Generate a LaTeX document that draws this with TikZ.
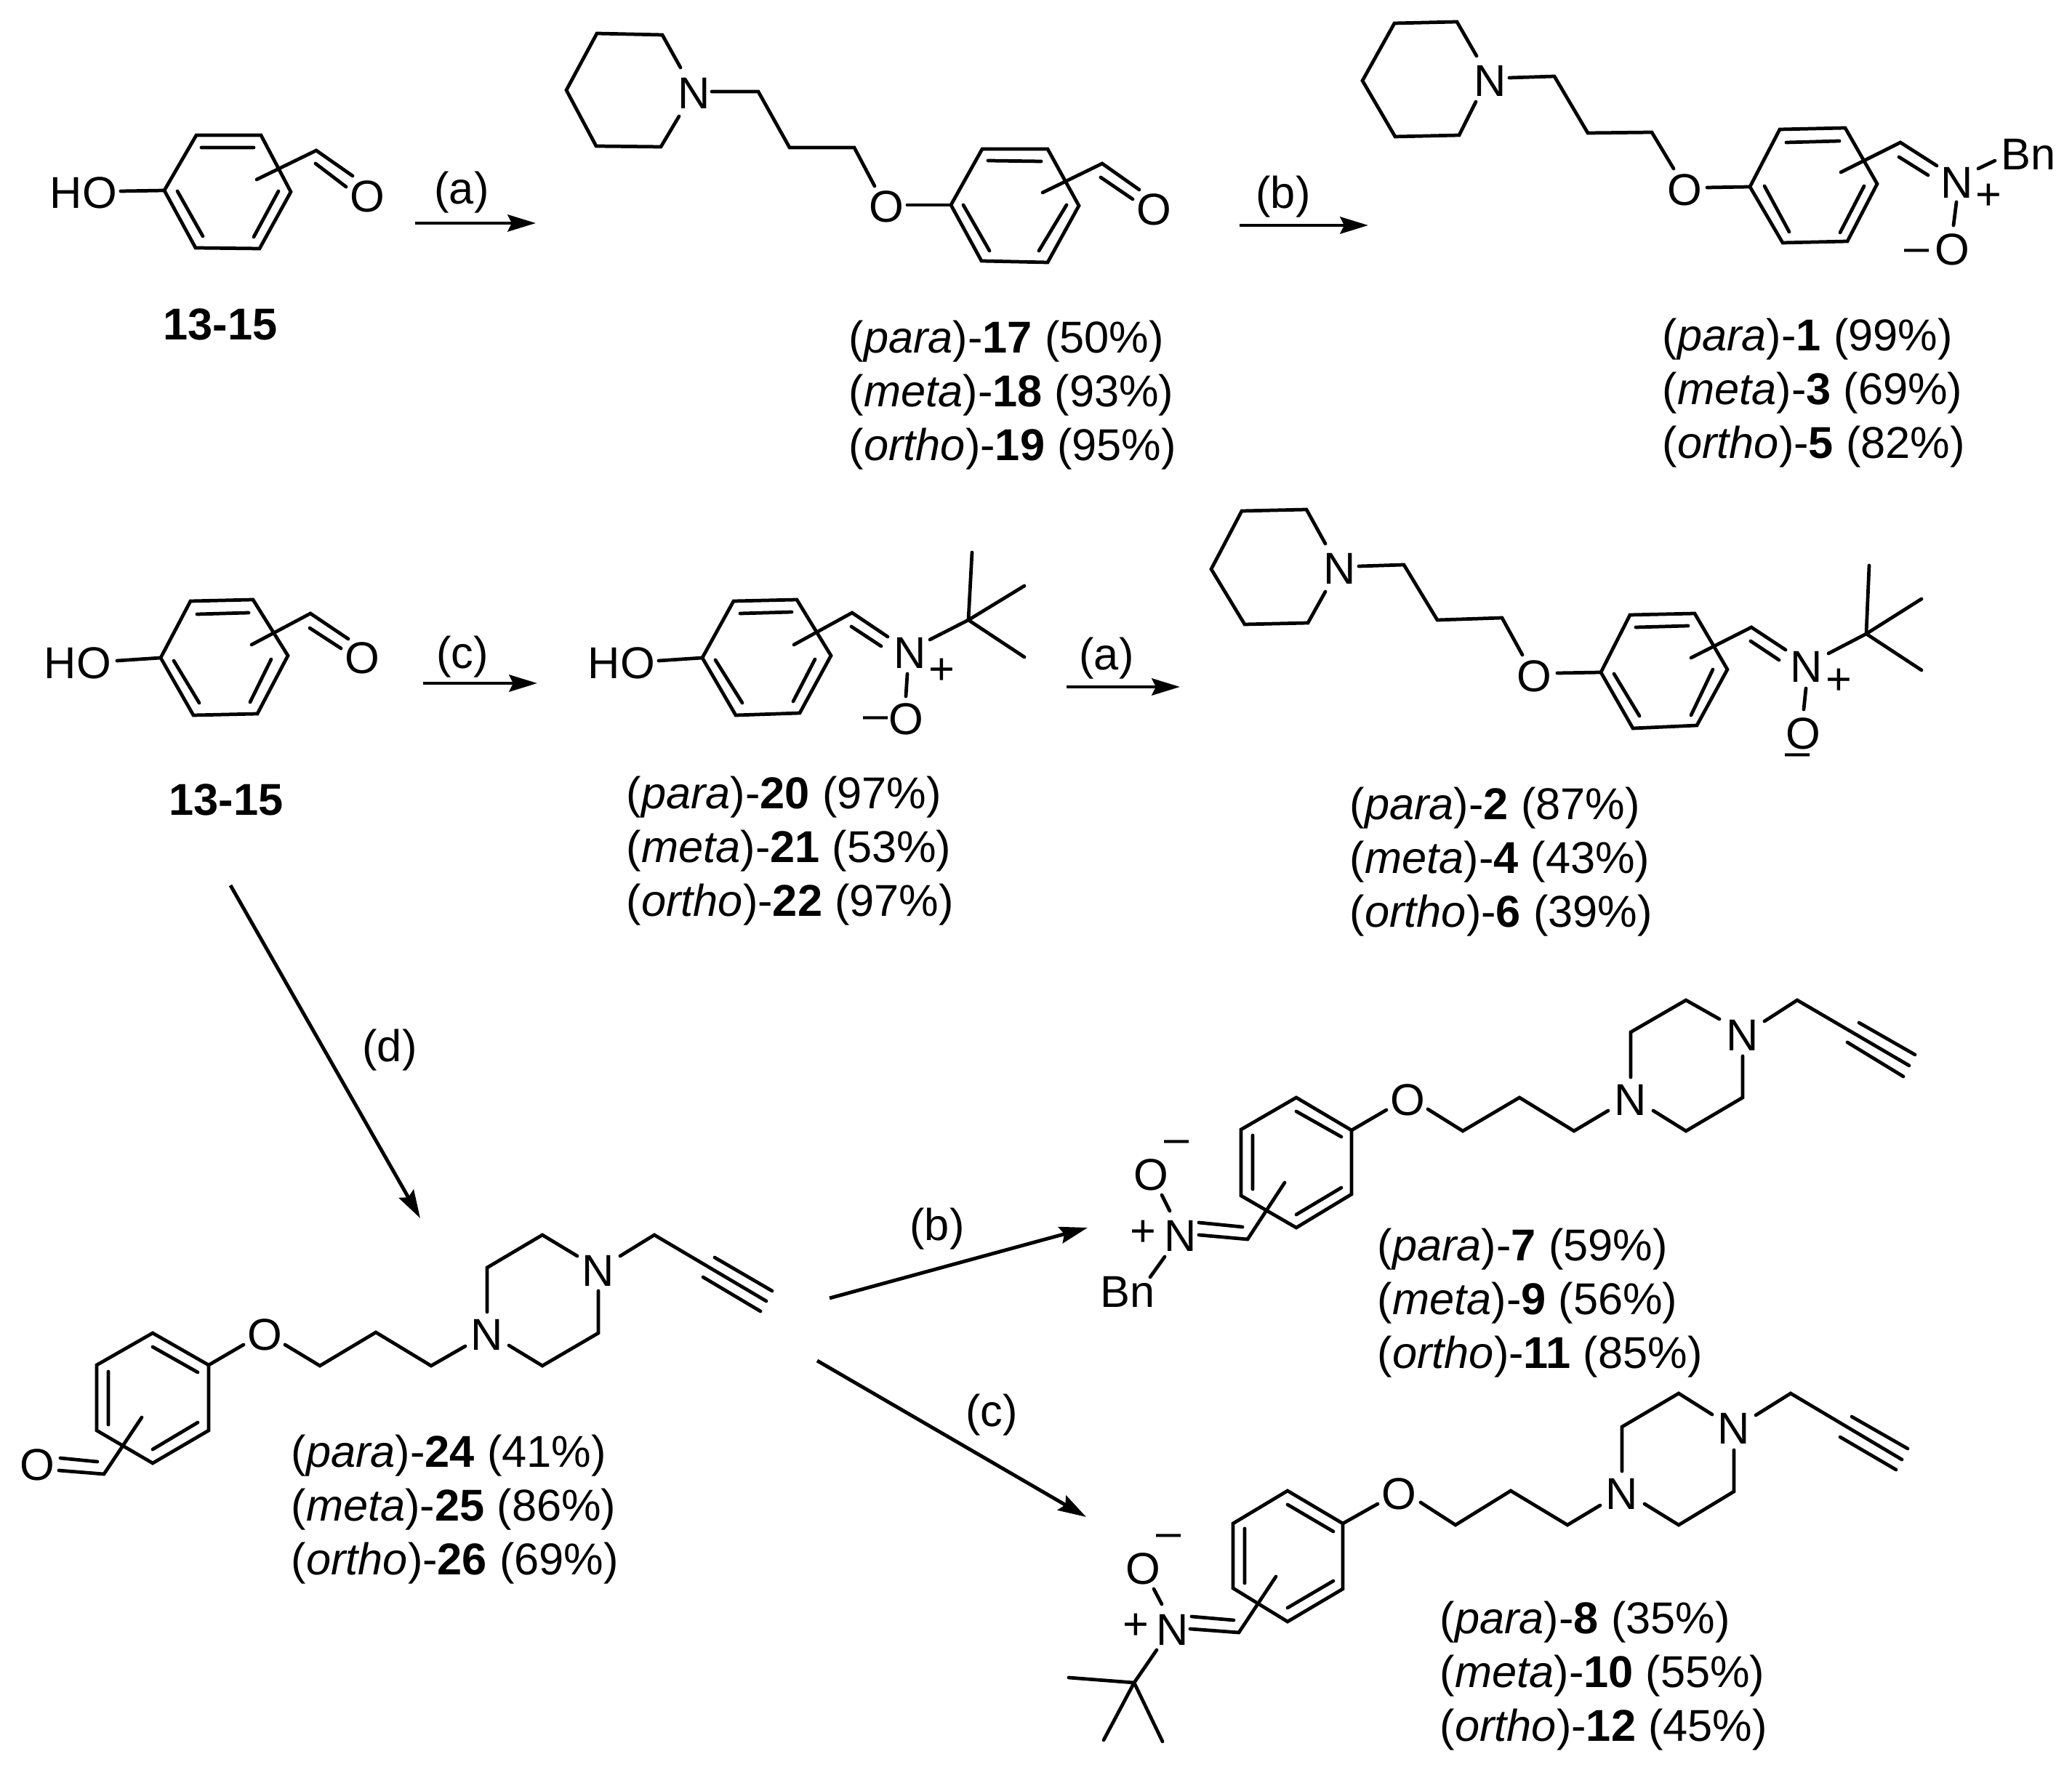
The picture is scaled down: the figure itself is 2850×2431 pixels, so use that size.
\documentclass[tikz,border=0pt]{standalone}
\usepackage{fontspec}
\setmainfont{Liberation Sans}
\usetikzlibrary{arrows.meta}
\tikzset{
  bond/.style={line width=1.35pt,line cap=round,line join=miter,black},
  rxn/.style={line width=1.4pt,black,-{Stealth[length=11pt,width=6.6pt,inset=1.6pt]}},
  atom/.style={inner sep=0pt,font=\fontsize{17.45pt}{20pt}\selectfont},
  yield/.style={inner sep=0pt,anchor=west,xshift=-0.03cm,font=\fontsize{17.45pt}{20pt}\selectfont},
}
\begin{document}
\begin{tikzpicture}[x=0.01cm,y=-0.01cm]
\useasboundingbox (0,0) rectangle (2850,2431);

% ---- 13-15 (top)
\draw[bond] (226,262)--(270,186)--(359,186)--(400,264)--(357,342)--(269,341)--cycle;
\draw[bond] (277,203)--(349,203) (244,263)--(279,325) (383,263)--(349,326);
\draw[bond] (166,263)--(226,262);
\draw[bond] (353,247)--(435,207)--(485,242) (434,225)--(476,257);
\node[atom] (ho1) at (115,265) {HO};
\node[atom] (o1) at (505,270) {O};
\node[atom,font=\fontsize{17.45pt}{20pt}\selectfont\bfseries] (c1315a) at (303,446) {13-15};
\coordinate (a1s) at (571,307); \coordinate (a1e) at (737,307);
\draw[rxn] (a1s)--(a1e);
\node[atom] (la1) at (635,265) {(a)};

% ---- 17/18/19
\draw[bond] (936,93)--(911,48)--(821,46)--(779,124)--(820,201)--(909,202)--(934,160);
\node[atom] (n17) at (955,128) {N};
\draw[bond] (979,126)--(1043,126)--(1086,203)--(1175,203)--(1203,256);
\node[atom] (o17) at (1219,284) {O};
\draw[bond] (1248,282)--(1308,282);
\draw[bond] (1308,282)--(1351,205)--(1441,205)--(1484,283)--(1441,361)--(1350,359)--cycle;
\draw[bond] (1359,221)--(1432,222) (1325,282)--(1361,345) (1467,282)--(1429,345);
\draw[bond] (1434,265)--(1516,225)--(1567,261) (1514,244)--(1558,274);
\node[atom] (o17b) at (1587,288) {O};
\node[yield] (y17) at (1170,470) {(\textit{para})-\textbf{17} (50\%)};
\node[yield] (y18) at (1170,544) {(\textit{meta})-\textbf{18} (93\%)};
\node[yield] (y19) at (1170,618) {(\textit{ortho})-\textbf{19} (95\%)};
\coordinate (b1s) at (1705,310); \coordinate (b1e) at (1882,310);
\draw[rxn] (b1s)--(b1e);
\node[atom] (lb1) at (1765,271) {(b)};

% ---- 1/3/5
\draw[bond] (2031,77)--(2004,30)--(1918,32)--(1874,111)--(1919,188)--(2007,186)--(2030,140);
\node[atom] (n1) at (2050,111) {N};
\draw[bond] (2076,107)--(2138,105)--(2184,183)--(2272,182)--(2302,232);
\node[atom] (o2) at (2317,261) {O};
\draw[bond] (2348,258)--(2407,257);
\draw[bond] (2407,257)--(2448,178)--(2538,176)--(2582,253)--(2541,332)--(2452,334)--cycle;
\draw[bond] (2457,196)--(2530,194) (2427,256)--(2461,319) (2564,256)--(2531,320);
\draw[bond] (2532,237)--(2614,196)--(2664,228) (2612,216)--(2652,241);
\node[atom] (n1b) at (2692,251) {N};
\node[atom] (p1) at (2735,271) {+};
\draw[bond] (2721,232)--(2744,221);
\node[atom] (bn1) at (2790,212) {Bn};
\draw[bond] (2691,278)--(2687,310);
\node[atom] (o1b) at (2685,343) {O};
\node[atom] (m1) at (2637,352) {–};
\node[yield] (y1) at (2289,467) {(\textit{para})-\textbf{1} (99\%)};
\node[yield] (y3) at (2289,541) {(\textit{meta})-\textbf{3} (69\%)};
\node[yield] (y5) at (2289,615) {(\textit{ortho})-\textbf{5} (82\%)};

% ---- 13-15 (second row)
\draw[bond] (221,905)--(262,827)--(348,825)--(396,902)--(354,982)--(266,984)--cycle;
\draw[bond] (271,845)--(342,843) (239,909)--(274,967) (373,907)--(344,966);
\draw[bond] (161,909)--(221,905);
\draw[bond] (346,887)--(427,844)--(479,879) (426,864)--(469,892);
\node[atom] (ho2) at (107,912) {HO};
\node[atom] (o3) at (498,905) {O};
\node[atom,font=\fontsize{17.45pt}{20pt}\selectfont\bfseries] (c1315b) at (311,1100) {13-15};
\coordinate (c1s) at (582,940); \coordinate (c1e) at (739,940);
\draw[rxn] (c1s)--(c1e);
\node[atom] (lc1) at (636,904) {(c)};
\coordinate (d1s) at (317,1218); \coordinate (d1e) at (578,1676);
\draw[rxn] (d1s)--(d1e);
\node[atom] (ld1) at (536,1445) {(d)};

% ---- 20/21/22
\draw[bond] (966,905)--(1009,827)--(1096,825)--(1143,902)--(1100,981)--(1012,984)--cycle;
\draw[bond] (1018,844)--(1089,842) (984,908)--(1021,967) (1121,907)--(1091,965);
\draw[bond] (906,909)--(966,905);
\node[atom] (ho3) at (855,912) {HO};
\draw[bond] (1092,887)--(1172,843)--(1221,876) (1171,862)--(1212,889);
\node[atom] (n20) at (1252,898) {N};
\node[atom] (p20) at (1295,924) {+};
\draw[bond] (1248,927)--(1246,958);
\node[atom] (o20) at (1246,989) {O};
\node[atom] (m20) at (1205,995) {–};
\draw[bond] (1279,880)--(1332,853) (1337,760)--(1332,853) (1409,806)--(1332,853)--(1409,904);
\node[yield] (y20) at (864,1097) {(\textit{para})-\textbf{20} (97\%)};
\node[yield] (y21) at (864,1171) {(\textit{meta})-\textbf{21} (53\%)};
\node[yield] (y22) at (864,1245) {(\textit{ortho})-\textbf{22} (97\%)};
\coordinate (a2s) at (1467,945); \coordinate (a2e) at (1623,945);
\draw[rxn] (a2s)--(a2e);
\node[atom] (la2) at (1522,906) {(a)};

% ---- 2/4/6
\draw[bond] (1823,748)--(1797,701)--(1708,703)--(1666,783)--(1712,859)--(1799,857)--(1823,814);
\node[atom] (n2) at (1843,782) {N};
\draw[bond] (1869,779)--(1931,777)--(1977,853)--(2066,850)--(2094,901);
\node[atom] (o4) at (2110,930) {O};
\draw[bond] (2142,926)--(2202,925);
\draw[bond] (2202,925)--(2242,846)--(2331,844)--(2376,921)--(2334,998)--(2246,1002)--cycle;
\draw[bond] (2250,863)--(2322,861) (2220,927)--(2255,985) (2356,921)--(2326,984);
\draw[bond] (2326,905)--(2409,863)--(2456,894) (2408,882)--(2447,908);
\node[atom] (n2b) at (2485,917) {N};
\node[atom] (p2) at (2529,938) {+};
\draw[bond] (2484,947)--(2481,976);
\node[atom] (o4b) at (2480,1009) {O};
\node[atom] (m2) at (2473,1046) {–};
\draw[bond] (2515,899)--(2567,872) (2571,778)--(2567,872) (2643,824)--(2567,872)--(2643,922);
\node[yield] (y2) at (1859,1112) {(\textit{para})-\textbf{2} (87\%)};
\node[yield] (y4) at (1859,1186) {(\textit{meta})-\textbf{4} (43\%)};
\node[yield] (y6) at (1859,1260) {(\textit{ortho})-\textbf{6} (39\%)};

% ---- 24/25/26
\draw[bond] (210,1834)--(287,1878)--(287,1968)--(210,2013)--(133,1968)--(133,1878)--cycle;
\draw[bond] (210,1853)--(272,1888) (272,1957)--(210,1994) (149,1887)--(149,1960);
\draw[bond] (287,1878)--(335,1850);
\node[atom] (o24) at (364,1836) {O};
\draw[bond] (392,1850)--(440,1879)--(517,1833)--(593,1879)--(640,1852);
\node[atom] (n24a) at (670,1836) {N};
\draw[bond] (670,1805)--(670,1744)--(746,1699)--(794,1728);
\node[atom] (n24b) at (823,1748) {N};
\draw[bond] (823,1776)--(823,1834)--(746,1879)--(700,1851);
\draw[bond] (853,1728)--(900,1699)--(1054,1790);
\draw[bond] (983,1730)--(1062,1776) (967,1757)--(1046,1804);
\draw[bond] (195,1950)--(143,2028)--(81,2023) (134,2011)--(83,2006);
\node[atom] (o24b) at (51,2015) {O};
\node[yield] (y24) at (403,2003) {(\textit{para})-\textbf{24} (41\%)};
\node[yield] (y25) at (403,2077) {(\textit{meta})-\textbf{25} (86\%)};
\node[yield] (y26) at (403,2151) {(\textit{ortho})-\textbf{26} (69\%)};
\coordinate (b2s) at (1141,1786); \coordinate (b2e) at (1496,1689);
\draw[rxn] (b2s)--(b2e);
\node[atom] (lb2) at (1289,1691) {(b)};
\coordinate (c2s) at (1124,1872); \coordinate (c2e) at (1494,2087);
\draw[rxn] (c2s)--(c2e);
\node[atom] (lc2) at (1364,1947) {(c)};

% ---- 7/9/11
\draw[bond] (1783,1510)--(1859,1555)--(1859,1643)--(1783,1689)--(1707,1645)--(1707,1554)--cycle;
\draw[bond] (1783,1529)--(1845,1564) (1845,1634)--(1783,1671) (1723,1562)--(1723,1636);
\draw[bond] (1859,1555)--(1907,1527);
\node[atom] (o7) at (1936,1513) {O};
\draw[bond] (1964,1526)--(2012,1556)--(2090,1510)--(2165,1556)--(2212,1528);
\node[atom] (n7a) at (2243,1513) {N};
\draw[bond] (2243,1482)--(2243,1420)--(2319,1376)--(2365,1402);
\node[atom] (n7b) at (2397,1424) {N};
\draw[bond] (2397,1453)--(2397,1510)--(2319,1556)--(2274,1528);
\draw[bond] (2427,1405)--(2472,1376)--(2626,1466);
\draw[bond] (2557,1407)--(2634,1451) (2541,1434)--(2618,1481);
\draw[bond] (1767,1627)--(1716,1705)--(1649,1699) (1709,1688)--(1649,1682);
\node[atom] (n7c) at (1624,1700) {N};
\node[atom] (p7) at (1572,1697) {+};
\draw[bond] (1609,1666)--(1598,1644);
\node[atom] (o7b) at (1583,1616) {O};
\node[atom] (m7) at (1619,1578) {–};
\draw[bond] (1602,1729)--(1582,1757);
\node[atom] (bn7) at (1551,1777) {Bn};
\node[yield] (y7) at (1897,1719) {(\textit{para})-\textbf{7} (59\%)};
\node[yield] (y9) at (1897,1793) {(\textit{meta})-\textbf{9} (56\%)};
\node[yield] (y11) at (1897,1867) {(\textit{ortho})-\textbf{11} (85\%)};

% ---- 8/10/12
\draw[bond] (1771,2051)--(1847,2096)--(1847,2186)--(1771,2231)--(1696,2185)--(1696,2096)--cycle;
\draw[bond] (1771,2070)--(1834,2107) (1834,2175)--(1771,2212) (1712,2103)--(1712,2178);
\draw[bond] (1847,2096)--(1895,2069);
\node[atom] (o8) at (1924,2055) {O};
\draw[bond] (1954,2067)--(2002,2098)--(2078,2051)--(2156,2098)--(2201,2071);
\node[atom] (n8a) at (2231,2055) {N};
\draw[bond] (2231,2024)--(2231,1963)--(2309,1917)--(2355,1946);
\node[atom] (n8b) at (2385,1965) {N};
\draw[bond] (2385,1995)--(2385,2052)--(2309,2098)--(2262,2069);
\draw[bond] (2415,1947)--(2463,1917)--(2616,2008);
\draw[bond] (2547,1949)--(2624,1993) (2531,1977)--(2608,2022);
\draw[bond] (1755,2169)--(1704,2246)--(1637,2241) (1697,2229)--(1639,2224);
\node[atom] (n8c) at (1613,2242) {N};
\node[atom] (p8) at (1562,2238) {+};
\draw[bond] (1598,2207)--(1587,2186);
\node[atom] (o8b) at (1572,2158) {O};
\node[atom] (m8) at (1608,2120) {–};
\draw[bond] (1591,2270)--(1560,2315) (1470,2308)--(1560,2315)--(1518,2394) (1560,2315)--(1599,2396);
\node[yield] (y8) at (1983,2232) {(\textit{para})-\textbf{8} (35\%)};
\node[yield] (y10) at (1983,2306) {(\textit{meta})-\textbf{10} (55\%)};
\node[yield] (y12) at (1983,2380) {(\textit{ortho})-\textbf{12} (45\%)};
\end{tikzpicture}
\end{document}
